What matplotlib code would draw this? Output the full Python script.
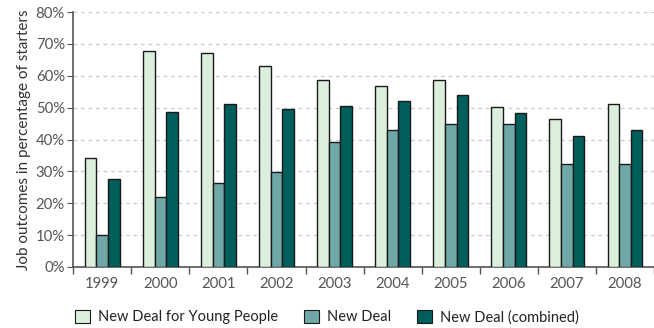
import numpy as np
import matplotlib
matplotlib.use("Agg")
import matplotlib.pyplot as plt
from matplotlib.patches import Patch

plt.rcParams['font.family'] = ['Lato', 'DejaVu Sans']

years = ['1999', '2000', '2001', '2002', '2003', '2004', '2005', '2006', '2007', '2008']
ndyp = [34.2, 67.8, 67.1, 63.2, 58.8, 56.9, 58.8, 50.1, 46.3, 51.3]
nd = [9.9, 21.9, 26.5, 29.7, 39.1, 43.0, 44.9, 44.9, 32.2, 32.3]
nd_comb = [27.7, 48.6, 51.2, 49.5, 50.6, 52.0, 53.9, 48.2, 41.1, 43.1]

series = [
    ('New Deal for Young People', ndyp, '#dcefdc'),
    ('New Deal', nd, '#70a8a8'),
    ('New Deal (combined)', nd_comb, '#005e5b'),
]

fig = plt.figure(figsize=(6.54, 3.28), dpi=100)
ax = fig.add_axes([0.112, 0.186, 0.888, 0.777])

x = np.arange(len(years))
w = 0.2
for i, (name, vals, col) in enumerate(series):
    ax.bar(x + (i - 1) * w, vals, width=w, color=col, edgecolor='#1a1a1a',
           linewidth=1.0, zorder=3)

ax.set_xlim(-0.5, len(years) - 0.5)
ax.set_ylim(0, 80)
ax.set_yticks(np.arange(0, 81, 10))
ax.set_yticklabels([f'{v}%' for v in range(0, 81, 10)])
ax.set_xticks(x)
ax.set_xticklabels(years)
ax.set_xticks(np.arange(-0.5, len(years), 1), minor=True)
ax.tick_params(axis='x', which='major', length=0, pad=7, labelsize=10.7, labelcolor='#555555')
ax.tick_params(axis='x', which='minor', length=5, color='#555555', width=1)
ax.tick_params(axis='y', length=4, color='#555555', labelsize=10.7, labelcolor='#555555', pad=2)

for v in range(10, 81, 10):
    ax.axhline(v, color='#cccccc', linestyle=(0, (3, 3)), linewidth=0.9, zorder=1)

for s in ['top', 'right']:
    ax.spines[s].set_visible(False)
for s in ['left', 'bottom']:
    ax.spines[s].set_color('#555555')
    ax.spines[s].set_linewidth(1.2)

ax.set_ylabel('Job outcomes in percentage of starters', fontsize=11, color='#333333', labelpad=3)

handles = [Patch(facecolor=c, edgecolor='#1a1a1a', linewidth=0.8, label=n) for n, _, c in series]
fig.legend(handles=handles, loc='center', bbox_to_anchor=(0.5, 0.033), ncol=3, frameon=False,
           fontsize=10.5, handlelength=1.0, handleheight=1.0, handletextpad=0.55,
           columnspacing=1.8, labelcolor='#222222')

fig.savefig('out.png', dpi=100)
